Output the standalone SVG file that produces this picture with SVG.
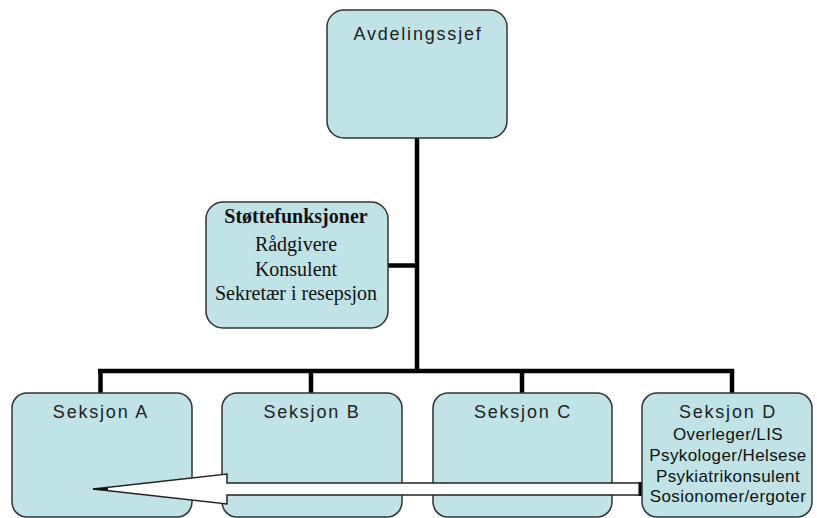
<svg xmlns="http://www.w3.org/2000/svg" width="817" height="518" viewBox="0 0 817 518">
  <style>
    .box { fill: #bfe3e6; stroke: #333333; stroke-width: 1.5; }
    .wire { fill: none; stroke: #000000; stroke-width: 4.5; }
    .head { font-family: "Liberation Sans", Arial, sans-serif; font-size: 18px; letter-spacing: 1.8px; fill: #222222; text-anchor: middle; }
    .body { font-family: "Liberation Sans", Arial, sans-serif; font-size: 17px; letter-spacing: 0.4px; fill: #111111; text-anchor: middle; }
    .serif { font-family: "Liberation Serif", "Times New Roman", serif; font-size: 20px; fill: #111111; text-anchor: middle; }
    .bold { font-weight: bold; }
    .arrow { fill: #ffffff; stroke: #222222; stroke-width: 1.5; stroke-linejoin: miter; }
  </style>
  <rect width="817" height="518" fill="#ffffff"/>

  <!-- connectors -->
  <g id="connectors">
    <line class="wire" x1="417" y1="138" x2="417" y2="373"/>
    <line class="wire" x1="388" y1="265.5" x2="417" y2="265.5"/>
    <line class="wire" x1="98" y1="371" x2="734.2" y2="371"/>
    <line class="wire" x1="100.5" y1="371" x2="100.5" y2="393"/>
    <line class="wire" x1="311" y1="371" x2="311" y2="393"/>
    <line class="wire" x1="522" y1="371" x2="522" y2="393"/>
    <line class="wire" x1="732" y1="371" x2="732" y2="393"/>
  </g>

  <g id="avdelingssjef">
    <rect class="box" x="327" y="10" width="180" height="128" rx="17"/>
    <text class="head" x="418" y="40">Avdelingssjef</text>
  </g>

  <g id="stottefunksjoner">
    <rect class="box" x="206" y="202" width="182" height="126" rx="17"/>
    <text class="serif bold" x="296" y="223">Støttefunksjoner</text>
    <text class="serif" x="296" y="251">Rådgivere</text>
    <text class="serif" x="296" y="276">Konsulent</text>
    <text class="serif" x="296" y="300">Sekretær i resepsjon</text>
  </g>

  <g id="seksjon-a">
    <rect class="box" x="12" y="393" width="180" height="124" rx="15"/>
    <text class="head" x="101" y="418">Seksjon A</text>
  </g>

  <g id="seksjon-b">
    <rect class="box" x="222" y="393" width="180" height="124" rx="15"/>
    <text class="head" x="312" y="418">Seksjon B</text>
  </g>

  <g id="seksjon-c">
    <rect class="box" x="433" y="393" width="179" height="124" rx="15"/>
    <text class="head" x="523" y="418">Seksjon C</text>
  </g>

  <g id="seksjon-d">
    <rect class="box" x="642" y="393" width="170" height="124" rx="15"/>
    <text class="head" x="728" y="418">Seksjon D</text>
    <text class="body" x="728" y="440">Overleger/LIS</text>
    <text class="body" x="728" y="461">Psykologer/Helsese</text>
    <text class="body" x="728" y="482">Psykiatrikonsulent</text>
    <text class="body" x="728" y="502">Sosionomer/ergoter</text>
  </g>

  <!-- block arrow from Seksjon D back to Seksjon A -->
  <g id="block-arrow">
    <polygon class="arrow" points="640,483 227,483 227,474 93,489 227,504 227,495 640,495"/>
    <line x1="93" y1="489" x2="108" y2="489" stroke="#111111" stroke-width="2"/>
    <line x1="640" y1="482" x2="640" y2="496" stroke="#000000" stroke-width="3"/>
  </g>
</svg>
